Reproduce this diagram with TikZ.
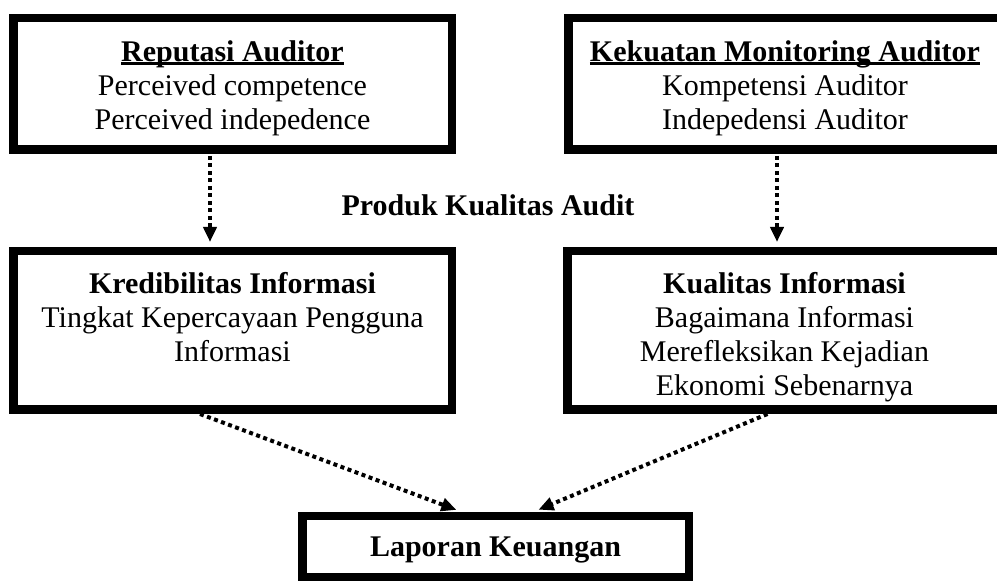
\documentclass[tikz,border=0pt]{standalone}
\usepackage{fontspec}
\setmainfont{Liberation Serif}
\usetikzlibrary{arrows.meta}
\newcommand{\ulbold}[1]{\leavevmode\setbox0\hbox{\bfseries #1}%
    \rlap{\rule[-2.2pt]{\wd0}{1.5pt}}\box0}
\newcommand{\toppad}[1]{\rule{0pt}{#1}}

\begin{document}
\begin{tikzpicture}[x=0.5pt,y=-0.5pt,
    box/.style={draw, line width=4.25pt, align=center,
        font=\fontsize{15}{17}\selectfont},
    dotarrow/.style={line width=2pt, dash pattern=on 2pt off 1.75pt,
        -{Triangle[width=6.5pt,length=7.5pt]}}]
    \useasboundingbox (0,0) rectangle (997,581);
    \clip (0,0) rectangle (997,581);

    \node[box, minimum width=219.25pt, minimum height=65.75pt] (rep) at (232.5,84)
        {\toppad{14.3pt}\ulbold{Reputasi Auditor}\\ Perceived competence\\ Perceived indepedence};
    \node[box, minimum width=216.75pt, minimum height=65.75pt] (kek) at (785,84)
        {\toppad{14.3pt}\ulbold{Kekuatan Monitoring Auditor}\\ Kompetensi Auditor\\ Indepedensi Auditor};

    \node[font=\fontsize{15}{17}\selectfont\bfseries] (produk) at (488,205) {Produk Kualitas Audit};

    \node[box, minimum width=219.25pt, minimum height=79.25pt] (kred) at (232.5,330.5)
        {\toppad{17pt}\textbf{Kredibilitas Informasi}\\ Tingkat Kepercayaan Pengguna\\ Informasi\\ \vphantom{y}};
    \node[box, minimum width=217.25pt, minimum height=79.25pt] (kual) at (784.5,330.5)
        {\toppad{17pt}\textbf{Kualitas Informasi}\\ Bagaimana Informasi\\ Merefleksikan Kejadian\\ Ekonomi Sebenarnya};

    \node[box, minimum width=193.25pt, minimum height=30.75pt] (lap) at (495.5,547)
        {\toppad{13pt}\textbf{Laporan Keuangan}};

    %% arrows
    \draw[dotarrow, shorten <=1pt, shorten >=2.5pt]
        ([xshift=-11.25pt]rep.south) -- ([xshift=-11.25pt]kred.north);
    \draw[dotarrow, shorten <=1pt, shorten >=2.5pt]
        ([xshift=-4pt]kek.south) -- ([xshift=-3.75pt]kual.north);
    \draw[dotarrow, shorten >=3pt]
        ([xshift=-16.25pt]kred.south) -- ([xshift=-16.75pt]lap.north);
    \draw[dotarrow, shorten >=3pt]
        ([xshift=-8.5pt]kual.south) -- ([xshift=18.75pt]lap.north);

\end{tikzpicture}
\end{document}
